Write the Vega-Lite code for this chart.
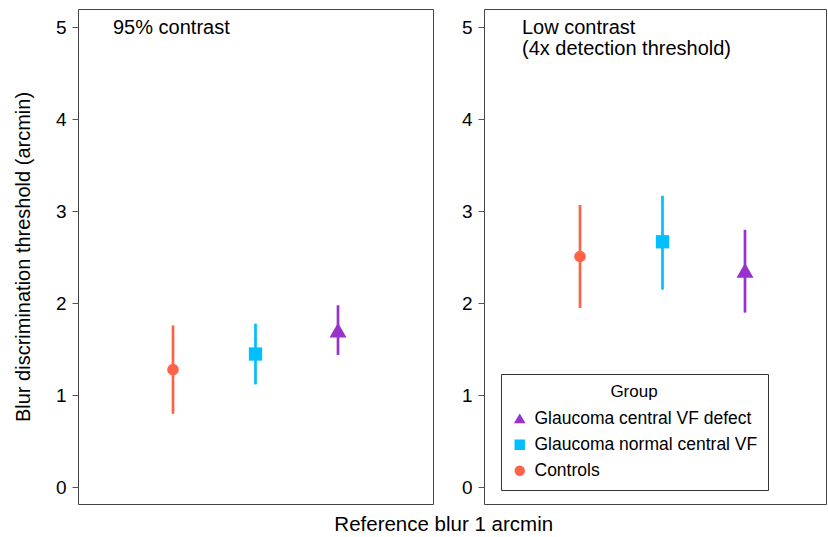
{
  "$schema": "https://vega.github.io/schema/vega-lite/v6.json",
  "background": "white",
  "padding": {"left": 12, "top": 8, "right": 2, "bottom": 2},
  "datasets": {
    "thr": [
      {"Contrast": "95% contrast", "Group": "Controls", "Threshold": 1.28, "Lower": 0.80, "Upper": 1.76},
      {"Contrast": "95% contrast", "Group": "Glaucoma normal central VF", "Threshold": 1.45, "Lower": 1.12, "Upper": 1.78},
      {"Contrast": "95% contrast", "Group": "Glaucoma central VF defect", "Threshold": 1.71, "Lower": 1.44, "Upper": 1.98},
      {"Contrast": "Low contrast", "Group": "Controls", "Threshold": 2.51, "Lower": 1.95, "Upper": 3.07},
      {"Contrast": "Low contrast", "Group": "Glaucoma normal central VF", "Threshold": 2.67, "Lower": 2.15, "Upper": 3.17},
      {"Contrast": "Low contrast", "Group": "Glaucoma central VF defect", "Threshold": 2.36, "Lower": 1.90, "Upper": 2.80}
    ]
  },
  "title": {
    "text": "Reference blur 1 arcmin",
    "orient": "bottom",
    "anchor": "middle",
    "fontSize": 20.5,
    "fontWeight": "normal",
    "font": "Liberation Sans",
    "color": "black",
    "offset": 10,
    "dx": 24
  },
  "spacing": 26,
  "resolve": {"scale": {"color": "independent", "shape": "independent"}},
  "hconcat": [
    {
      "width": 355,
      "height": 495,
      "title": {
        "text": "95% contrast",
        "orient": "top",
        "anchor": "start",
        "frame": "group",
        "baseline": "top",
        "offset": -29,
        "dx": 35,
        "fontSize": 20,
        "fontWeight": "normal",
        "font": "Liberation Sans",
        "color": "black"
      },
      "data": {"name": "thr"},
      "transform": [{"filter": "datum.Contrast === '95% contrast'"}],
      "encoding": {
        "x": {
          "field": "Group",
          "type": "nominal",
          "scale": {"type": "point", "domain": ["Controls", "Glaucoma normal central VF", "Glaucoma central VF defect"], "padding": 0, "range": [95, 260]},
          "axis": null
        },
        "color": {
          "field": "Group",
          "type": "nominal",
          "scale": {"domain": ["Glaucoma central VF defect", "Glaucoma normal central VF", "Controls"], "range": ["#9932CC", "#00BFFF", "#FF6347"]},
          "legend": null
        },
        "shape": {
          "field": "Group",
          "type": "nominal",
          "scale": {"domain": ["Glaucoma central VF defect", "Glaucoma normal central VF", "Controls"], "range": ["triangle-up", "square", "circle"]},
          "legend": null
        }
      },
      "layer": [
        {
          "mark": {"type": "rule", "strokeWidth": 2.7},
          "encoding": {
            "shape": null,
            "y": {
              "field": "Lower",
              "type": "quantitative",
              "scale": {"domain": [-0.18, 5.2], "nice": false, "zero": false},
              "axis": {"values": [0, 1, 2, 3, 4, 5], "title": "Blur discrimination threshold (arcmin)"}
            },
            "y2": {"field": "Upper"}
          }
        },
        {
          "transform": [{"filter": "datum.Group === 'Controls'"}],
          "mark": {"type": "point", "filled": true, "opacity": 1, "size": 135},
          "encoding": {"y": {"field": "Threshold", "type": "quantitative", "axis": {"values": [0, 1, 2, 3, 4, 5], "title": "Blur discrimination threshold (arcmin)"}}}
        },
        {
          "transform": [{"filter": "datum.Group === 'Glaucoma normal central VF'"}],
          "mark": {"type": "point", "filled": true, "opacity": 1, "size": 177},
          "encoding": {"y": {"field": "Threshold", "type": "quantitative", "axis": {"values": [0, 1, 2, 3, 4, 5], "title": "Blur discrimination threshold (arcmin)"}}}
        },
        {
          "transform": [{"filter": "datum.Group === 'Glaucoma central VF defect'"}],
          "mark": {"type": "point", "filled": true, "opacity": 1, "size": 289},
          "encoding": {"y": {"field": "Threshold", "type": "quantitative", "axis": {"values": [0, 1, 2, 3, 4, 5], "title": "Blur discrimination threshold (arcmin)"}}}
        }
      ]
    },
    {
      "width": 342,
      "height": 495,
      "title": {
        "text": ["Low contrast", "(4x detection threshold)"],
        "orient": "top",
        "anchor": "start",
        "frame": "group",
        "baseline": "top",
        "offset": -50,
        "dx": 38,
        "lineHeight": 21,
        "fontSize": 20,
        "fontWeight": "normal",
        "font": "Liberation Sans",
        "color": "black"
      },
      "data": {"name": "thr"},
      "transform": [{"filter": "datum.Contrast === 'Low contrast'"}],
      "encoding": {
        "x": {
          "field": "Group",
          "type": "nominal",
          "scale": {"type": "point", "domain": ["Controls", "Glaucoma normal central VF", "Glaucoma central VF defect"], "padding": 0, "range": [96, 261]},
          "axis": null
        },
        "color": {
          "field": "Group",
          "type": "nominal",
          "title": "Group",
          "scale": {"domain": ["Glaucoma central VF defect", "Glaucoma normal central VF", "Controls"], "range": ["#9932CC", "#00BFFF", "#FF6347"]},
          "legend": {"orient": "none", "legendX": 17, "legendY": 365}
        },
        "shape": {
          "field": "Group",
          "type": "nominal",
          "title": "Group",
          "scale": {"domain": ["Glaucoma central VF defect", "Glaucoma normal central VF", "Controls"], "range": ["triangle-up", "square", "circle"]},
          "legend": {"orient": "none", "legendX": 17, "legendY": 365}
        }
      },
      "layer": [
        {
          "mark": {"type": "rule", "strokeWidth": 2.7},
          "encoding": {
            "shape": null,
            "y": {
              "field": "Lower",
              "type": "quantitative",
              "scale": {"domain": [-0.18, 5.2], "nice": false, "zero": false},
              "axis": {"values": [0, 1, 2, 3, 4, 5], "title": null}
            },
            "y2": {"field": "Upper"}
          }
        },
        {
          "transform": [{"filter": "datum.Group === 'Controls'"}],
          "mark": {"type": "point", "filled": true, "opacity": 1, "size": 135},
          "encoding": {"y": {"field": "Threshold", "type": "quantitative", "axis": {"values": [0, 1, 2, 3, 4, 5], "title": null}}}
        },
        {
          "transform": [{"filter": "datum.Group === 'Glaucoma normal central VF'"}],
          "mark": {"type": "point", "filled": true, "opacity": 1, "size": 177},
          "encoding": {"y": {"field": "Threshold", "type": "quantitative", "axis": {"values": [0, 1, 2, 3, 4, 5], "title": null}}}
        },
        {
          "transform": [{"filter": "datum.Group === 'Glaucoma central VF defect'"}],
          "mark": {"type": "point", "filled": true, "opacity": 1, "size": 289},
          "encoding": {"y": {"field": "Threshold", "type": "quantitative", "axis": {"values": [0, 1, 2, 3, 4, 5], "title": null}}}
        }
      ]
    }
  ],
  "config": {
    "font": "Liberation Sans",
    "view": {"stroke": "#444", "strokeWidth": 1},
    "axis": {
      "labelFontSize": 19,
      "labelColor": "black",
      "labelFont": "Liberation Sans",
      "titleFont": "Liberation Sans",
      "titleFontSize": 20,
      "titleFontWeight": "normal",
      "titleColor": "black",
      "tickColor": "#555",
      "tickSize": 6,
      "domain": false,
      "grid": false,
      "labelPadding": 6,
      "titlePadding": 22
    },
    "legend": {
      "strokeColor": "#333",
      "padding": 10,
      "titleFontSize": 17,
      "titleFontWeight": "normal",
      "titleColor": "black",
      "titleFont": "Liberation Sans",
      "titleAnchor": "middle",
      "titlePadding": 9,
      "labelFontSize": 17.5,
      "labelColor": "black",
      "labelFont": "Liberation Sans",
      "labelLimit": 400,
      "labelOffset": 6,
      "symbolSize": 80,
      "rowPadding": 7,
      "symbolOpacity": 1
    }
  }
}
